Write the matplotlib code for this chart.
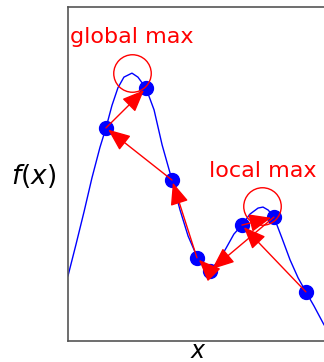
import matplotlib
matplotlib.use("Agg")
import matplotlib.pyplot as plt

# curve samples
curve_x = [0.0, 0.31, 0.62, 0.92, 1.23, 1.46, 1.69, 1.92, 2.15, 2.46, 2.69, 3.00,
           3.31, 3.62, 4.00, 4.31, 4.62, 5.00, 5.23, 5.46, 5.77, 6.08, 6.38, 6.69,
           7.00, 7.31, 7.50, 7.70, 7.92, 8.23, 8.54, 8.85, 9.15, 9.46, 9.85, 10.1]
curve_y = [0.195, 0.290, 0.388, 0.488, 0.580, 0.638, 0.705, 0.758, 0.790, 0.802, 0.790, 0.757,
           0.692, 0.587, 0.482, 0.392, 0.314, 0.246, 0.222, 0.213, 0.237, 0.278, 0.320, 0.347,
           0.380, 0.398, 0.401, 0.392, 0.371, 0.308, 0.243, 0.189, 0.147, 0.105, 0.048, 0.030]

# search path (in visiting order)
path_x = [9.15, 6.69, 7.92, 5.46, 4.96, 4.00, 1.46, 3.00]
path_y = [0.147, 0.347, 0.371, 0.210, 0.249, 0.482, 0.638, 0.757]

# maxima markers
max_x = [2.46, 7.46]
max_y = [0.802, 0.404]
max_labels = ["global max", "local max"]
label_x = [0.08, 5.42]
label_y = [0.892, 0.491]

fig = plt.figure(figsize=(3.24, 3.62), dpi=100)
ax = fig.add_axes([68/324, 21/362, 260/324, 334/362])

ax.plot(curve_x, curve_y, color="blue", lw=1.0, zorder=2)
ax.plot(path_x, path_y, "o", color="blue", ms=10, zorder=3)

for i in range(len(path_x) - 1):
    ax.annotate("", xy=(path_x[i+1], path_y[i+1]), xytext=(path_x[i], path_y[i]),
                arrowprops=dict(arrowstyle="-|>,head_length=0.65,head_width=0.27",
                                mutation_scale=21, color="red", lw=1.0,
                                shrinkA=0, shrinkB=2),
                zorder=4)

ax.plot(max_x, max_y, "o", ms=27, mfc="none", mec="red", mew=1.0, zorder=4)
for lx, ly, t in zip(label_x, label_y, max_labels):
    ax.text(lx, ly, t, color="red", fontsize=16, ha="left", va="baseline")

ax.set_xlim(0, 10)
ax.set_ylim(0, 1)
ax.set_xticks([])
ax.set_yticks([])
for s in ax.spines.values():
    s.set_color("#555555")
    s.set_linewidth(1.2)

ax.set_xlabel("$x$", fontsize=17)
ax.set_ylabel("$f(x)$", fontsize=19, rotation=0)
ax.xaxis.set_label_coords(0.5, -0.029)
ax.yaxis.set_label_coords(-0.131, 0.494)
ax.xaxis.label.set_va("center")
ax.yaxis.label.set_va("center")
ax.yaxis.label.set_ha("center")

fig.savefig("out.png", dpi=100)
